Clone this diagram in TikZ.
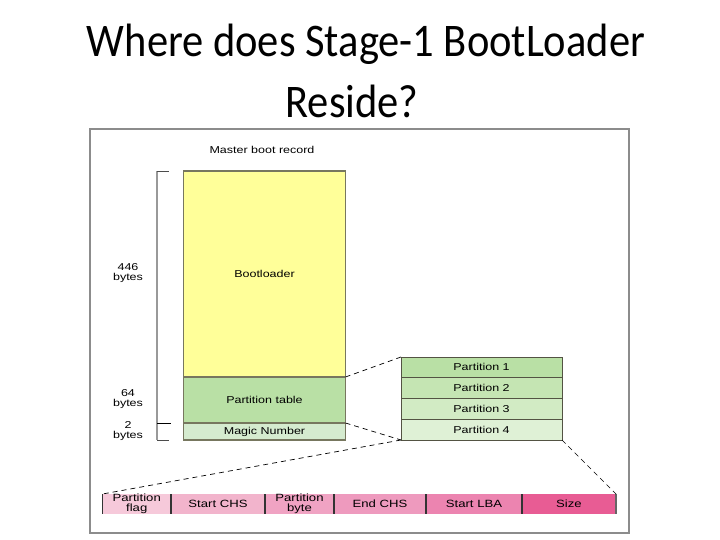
\documentclass[tikz,border=0pt]{standalone}
\usepackage{fontspec}
\usepackage{graphicx}
\setmainfont{Liberation Sans}
\newfontfamily\titlefont{Carlito}
\newcommand\hs[1]{\scalebox{1.25}[1]{#1}}
\newcommand\ttl[1]{\scalebox{1}[1.1]{#1}}
\newcommand\twol[2]{\hs{\def\arraystretch{0.78}\begin{tabular}{@{}c@{}}#1\\#2\end{tabular}}}
\definecolor{frameg}{HTML}{8C8C8C}
\definecolor{boxline}{HTML}{77775F}
\definecolor{yel}{HTML}{FFFF99}
\definecolor{ptab}{HTML}{B9E0A5}
\definecolor{magic}{HTML}{D5EBCF}
\definecolor{pa}{HTML}{B9E0A5}
\definecolor{pb}{HTML}{C5E5B3}
\definecolor{pc}{HTML}{D2EBC4}
\definecolor{pd}{HTML}{DFF1D6}
\definecolor{ca}{HTML}{F6C9DA}
\definecolor{cb}{HTML}{F2B4CC}
\definecolor{cc}{HTML}{F0A3C3}
\definecolor{cd}{HTML}{EE9ABE}
\definecolor{ce}{HTML}{EC84B0}
\definecolor{cf}{HTML}{E85C94}
\tikzset{
  lbl/.style={font=\fontsize{10}{11}\selectfont, inner sep=0pt},
  mbox/.style={draw=boxline, line width=1.2pt, inner sep=0pt, outer sep=0pt, anchor=north west, lbl},
  pbox/.style={draw=boxline!70!black, line width=0.8pt, inner sep=0pt, outer sep=0pt, anchor=north west, minimum width=161pt, minimum height=20.75pt, lbl},
  cell/.style={inner sep=0pt, outer sep=0pt, anchor=north west, minimum height=20pt, font=\fontsize{10.5}{11}\selectfont},
  divider/.style={draw=black!80, line width=1.6pt},
  zoomline/.style={draw=black, line width=0.7pt, dash pattern=on 5pt off 4pt},
  ttlnode/.style={anchor=base, inner sep=0pt, font=\titlefont\fontsize{42.5}{50}\selectfont},
}
\begin{document}
\begin{tikzpicture}[x=1pt,y=-1pt]
\useasboundingbox (0,0) rectangle (720,540);
% title
\node[ttlnode] (t1) at (366,57) {\ttl{Where does Stage-1 BootLoader}};
\node[ttlnode] (t2) at (352,118) {\ttl{Reside?}};
% frame
\draw[frameg, line width=1.5pt] (90,129) rectangle (629,533);
\node[lbl] (mbr) at (262,150) {\hs{Master boot record}};
% MBR stack
\node[mbox, fill=yel, minimum width=162pt, minimum height=206pt] (boot) at (183.5,171) {\hs{Bootloader}};
\node[mbox, fill=ptab, minimum width=162pt, minimum height=46pt] (ptable) at (183.5,377) {\hs{Partition table}};
\node[mbox, fill=magic, minimum width=162pt, minimum height=17pt] (magicn) at (183.5,423) {\hs{Magic Number}};
% bracket
\coordinate (bt) at (157,171.5);
\coordinate (bb) at (157,440);
\coordinate (bm) at (157,423);
\draw[black!40, line width=1.5pt] (bt) -- (bb);
\draw[black!70, line width=0.8pt] (bt) -- ++(12,0);
\draw[black!70, line width=0.8pt] (bb) -- ++(12,0);
\draw[black, line width=0.8pt] (bm) -- ++(14,0);
\node[lbl, align=center] (l446) at (128,273) {\twol{446}{bytes}};
\node[lbl, align=center] (l64) at (128,399.5) {\twol{64}{bytes}};
\node[lbl, align=center] (l2) at (128,431.5) {\twol{2}{bytes}};
% partitions
\node[pbox, fill=pa] (p1) at (401,357) {\hs{Partition 1}};
\node[pbox, fill=pb] (p2) at (401,377.75) {\hs{Partition 2}};
\node[pbox, fill=pc] (p3) at (401,398.5) {\hs{Partition 3}};
\node[pbox, fill=pd] (p4) at (401,419.25) {\hs{Partition 4}};
% entry bar
\node[cell, fill=ca, minimum width=68.5pt] (c1) at (102.5,494) {\twol{Partition}{flag}};
\node[cell, fill=cb, minimum width=94pt] (c2) at (171,494) {\hs{Start CHS}};
\node[cell, fill=cc, minimum width=69pt] (c3) at (265,494) {\twol{Partition}{byte}};
\node[cell, fill=cd, minimum width=92pt] (c4) at (334,494) {\hs{End CHS}};
\node[cell, fill=ce, minimum width=96pt] (c5) at (426,494) {\hs{Start LBA}};
\node[cell, fill=cf, minimum width=94pt] (c6) at (522,494) {\hs{Size}};
\draw[divider] (c1.north west) -- (c1.south west);
\draw[divider] (c2.north west) -- (c2.south west);
\draw[divider] (c3.north west) -- (c3.south west);
\draw[divider] (c4.north west) -- (c4.south west);
\draw[divider] (c5.north west) -- (c5.south west);
\draw[divider] (c6.north west) -- (c6.south west);
\draw[divider, black!60] (c6.north east) -- (c6.south east);
% zoom lines
\draw[zoomline] (boot.south east) -- (p1.north west);
\draw[zoomline] (ptable.south east) -- (p4.south west);
\draw[zoomline] (p4.south west) -- (c1.north west);
\draw[zoomline] (p4.south east) -- (c6.north east);
\end{tikzpicture}
\end{document}
